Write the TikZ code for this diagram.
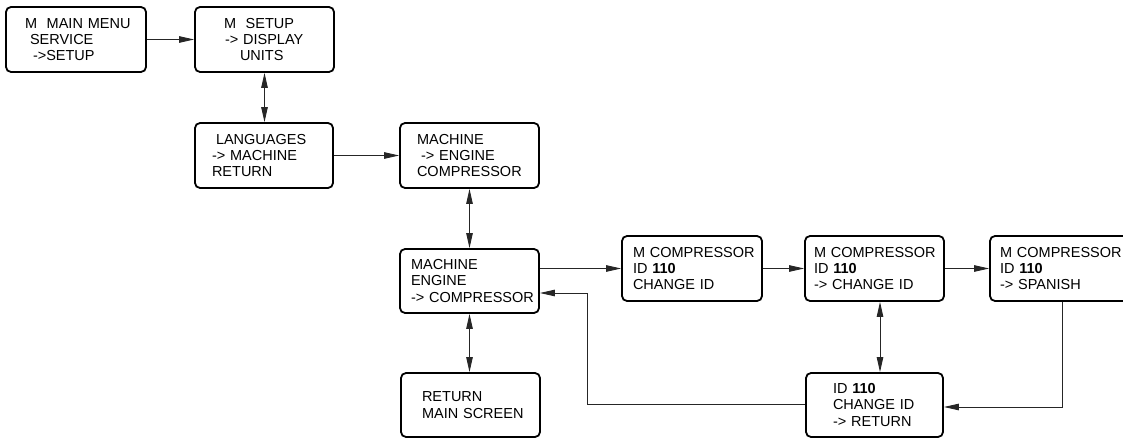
\documentclass[tikz,border=0pt]{standalone}
\usepackage{fontspec}
\setmainfont{Liberation Sans}
\usetikzlibrary{arrows.meta,calc}
\begin{document}
\begin{tikzpicture}[x=1pt,y=-1pt,
  box/.style={draw,line width=1.8pt,rounded corners=5pt,inner sep=0pt,align=left,
    font=\fontsize{14.5}{16.3}\selectfont},
  conn/.style={line width=0.9pt,draw=black!85},
  tip/.style={-{Triangle[length=15pt,width=6.5pt]}},
  dtip/.style={{Triangle[length=15pt,width=6.5pt]}-{Triangle[length=15pt,width=6.5pt]}}]
\useasboundingbox (0,0) rectangle (1123,438);
\newcommand{\bx}[7]{% name, left, top, right, bottom, text
  \node[box,minimum width={#4-#2},minimum height={#5-#3},text width={#4-#2}] (#1) at ({(#2+#4)/2},{(#3+#5)/2}) {#6};}
\bx{b1}{6}{7}{146}{72}{\hspace*{19pt}M\ \ MAIN MENU\\\hspace*{24pt}SERVICE\\\hspace*{27pt}->SETUP}{}
\bx{b2}{195}{7}{334}{72}{\hspace*{29pt}M\ \ SETUP\\\hspace*{30pt}-> DISPLAY\\\hspace*{45pt}UNITS}{}
\bx{b3}{195}{123}{333}{188}{\hspace*{21pt}LANGUAGES\\\hspace*{17pt}-> MACHINE\\\hspace*{17pt}RETURN}{}
\bx{b4}{400}{123}{539}{188}{\hspace*{17pt}MACHINE\\\hspace*{21pt}-> ENGINE\\\hspace*{17pt}COMPRESSOR}{}
\bx{b5}{400}{249}{539}{313}{\hspace*{11pt}MACHINE\\\hspace*{11pt}ENGINE\\\hspace*{11pt}-> COMPRESSOR}{}
\bx{b6}{401}{373}{540}{437}{\hspace*{21pt}RETURN\\\hspace*{21pt}MAIN SCREEN}{}
\bx{b7}{622}{236}{762}{301}{\hspace*{11pt}M COMPRESSOR\\\hspace*{11pt}ID \textbf{110}\\\hspace*{11pt}CHANGE ID}{}
\bx{b8}{805}{236}{944}{301}{\hspace*{9pt}M COMPRESSOR\\\hspace*{9pt}ID \textbf{110}\\\hspace*{9pt}-> CHANGE ID}{}
\bx{b9}{806}{373}{943}{437}{\hspace*{27pt}ID \textbf{110}\\\hspace*{27pt}CHANGE ID\\\hspace*{27pt}-> RETURN}{}
\bx{b10}{990}{236}{1130}{301}{\hspace*{10pt}M COMPRESSOR\\\hspace*{10pt}ID \textbf{110}\\\hspace*{10pt}-> SPANISH}{}
\coordinate (turnx) at (587,0);
\draw[conn,tip] (b1) -- (b2);
\draw[conn,dtip] (b2.south) -- (b2.south |- b3.north);
\draw[conn,tip] (b3) -- (b4);
\draw[conn,dtip] (b4.south) -- (b4.south |- b5.north);
\draw[conn,dtip] (b5.south) -- (b5.south |- b6.north);
\draw[conn,tip] (b5.east |- b7.west) -- (b7.west);
\draw[conn,tip] (b7) -- (b8);
\draw[conn,tip] (b8) -- (b10);
\draw[conn,dtip] ([xshift=5.5pt]b8.south) -- ([xshift=5.5pt]b8.south |- b9.north);
\draw[conn,tip] ([xshift=2pt]b10.south) |- ([yshift=-2pt]b9.east);
\draw[conn,tip] ([yshift=1pt]b9.west) -- ([yshift=1pt]b9.west -| turnx) |- ([yshift=-12pt]b5.east);
\end{tikzpicture}
\end{document}
